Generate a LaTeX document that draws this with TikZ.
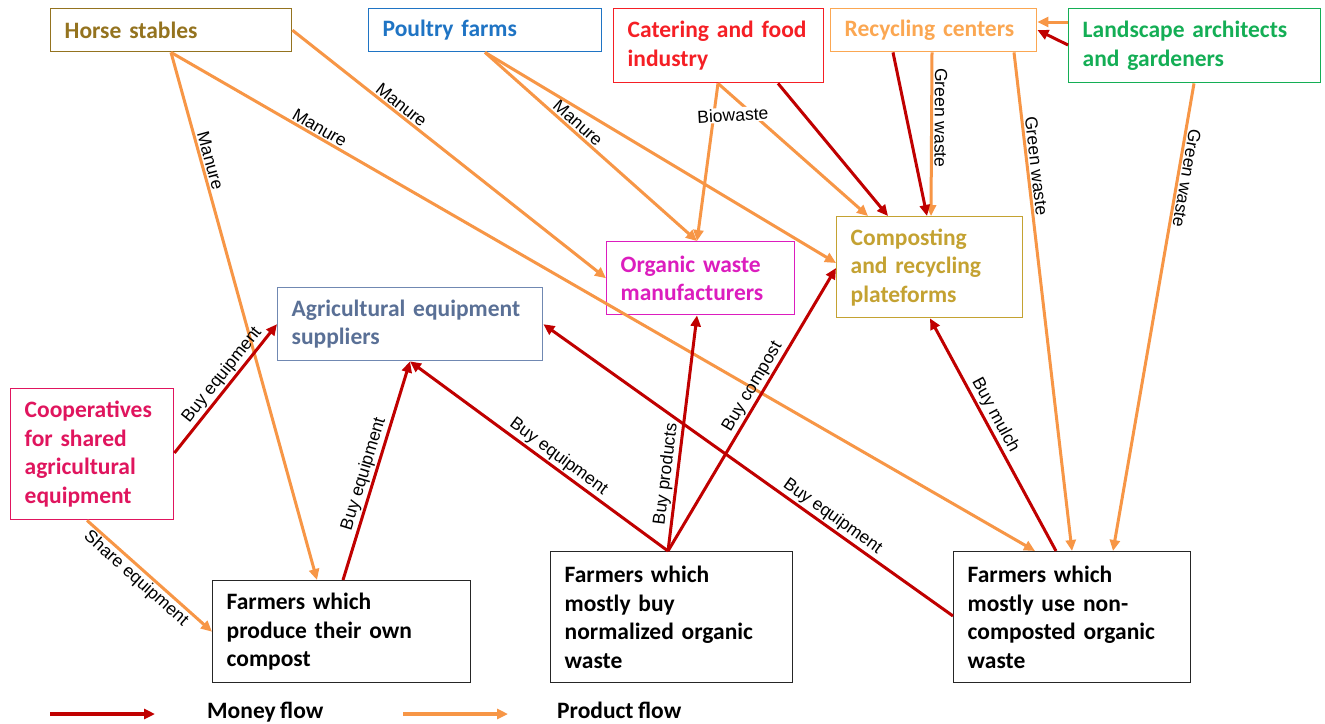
\documentclass[tikz,border=0pt]{standalone}
\usepackage{fontspec}
\usetikzlibrary{arrows.meta}
\newfontfamily\boxfont{Carlito}[WordSpace=0.85]
\newfontfamily\labfont{Liberation Sans}

\definecolor{horsec}{HTML}{94731F}
\definecolor{poultryc}{HTML}{1F74C4}
\definecolor{cateringc}{HTML}{F51F25}
\definecolor{recycc}{HTML}{FBA752}
\definecolor{landc}{HTML}{14AE55}
\definecolor{organicc}{HTML}{DC1DBE}
\definecolor{compostc}{HTML}{C4A232}
\definecolor{agric}{HTML}{5A7096}
\definecolor{agrib}{HTML}{7088B2}
\definecolor{coopc}{HTML}{E0155E}
\definecolor{prodc}{HTML}{F79646}
\definecolor{moneyc}{HTML}{C00000}

\tikzset{
  box/.style={draw, line width=1.4pt, anchor=north west, inner xsep=14pt,
    inner ysep=0pt, align=left,
    font=\boxfont\bfseries\fontsize{23.5}{28.6}\selectfont},
  farmer/.style={box, draw=black!85, text=black},
  prod/.style={draw=prodc, line width=3pt, -{Triangle[length=11pt,width=10pt]}},
  money/.style={draw=moneyc, line width=3pt, -{Triangle[length=11pt,width=10pt]}},
  lab/.style={sloped, above, inner sep=1.5pt, text=black,
    font=\labfont\fontsize{17.5}{19}\selectfont},
  legendtext/.style={anchor=base west, inner sep=0pt,
    font=\boxfont\bfseries\fontsize{23.5}{28}\selectfont}
}

\begin{document}
\begin{tikzpicture}[x=1pt, y=-1pt]
\useasboundingbox (0,0) rectangle (1325,723);
\fill[white] (0,0) rectangle (1325,723);

% Actors
\node[box, draw=horsec, text=horsec, text width=213pt, minimum height=43pt] (horse) at (50,8) {Horse stables};
\node[box, draw=poultryc, text=poultryc, text width=205pt, minimum height=43pt] (poultry) at (368,8) {Poultry farms};
\node[box, draw=cateringc, text=cateringc, text width=182pt, minimum height=74pt] (catering) at (613,8) {Catering and food\\industry};
\node[box, draw=recycc, text=recycc, text width=178pt, minimum height=43pt] (recyc) at (830,8) {Recycling centers};
\node[box, draw=landc, text=landc, text width=224pt, minimum height=74pt] (land) at (1068,8) {Landscape architects\\and gardeners};
\node[box, draw=organicc, text=organicc, text width=160pt, minimum height=73pt] (organic) at (606,241) {Organic waste\\manufacturers};
\node[box, draw=compostc, text=compostc, text width=158pt, minimum height=101pt] (compost) at (836,216) {Composting\\and recycling\\plateforms};
\node[box, draw=agrib, text=agric, text width=237pt, minimum height=73pt] (agri) at (277,287) {Agricultural equipment\\suppliers};
\node[box, draw=coopc, text=coopc, text width=135pt, minimum height=131pt] (coop) at (10,388) {Cooperatives\\for shared\\agricultural\\equipment};
\node[farmer, text width=230pt, minimum height=102pt] (fown) at (212,580) {Farmers which\\produce their own\\compost};
\node[farmer, text width=214pt, minimum height=131pt] (fbuy) at (550,551) {Farmers which\\mostly buy\\normalized organic\\waste};
\node[farmer, text width=209pt, minimum height=131pt] (fnon) at (953,551) {Farmers which\\mostly use non-\\composted organic\\waste};

% Product flows
\draw[prod] ([xshift=121pt]horse.south west) -- node[lab, pos=.21] {Manure} ([xshift=105pt]fown.north west);
\draw[prod] ([xshift=121pt]horse.south west) -- node[lab, pos=.167] {Manure} ([xshift=82pt]fnon.north west);
\draw[prod] (horse.east) -- node[lab, pos=.33] {Manure} (organic.west);
\draw[prod] ([xshift=117pt]poultry.south west) -- node[lab, pos=.41] {Manure} ([xshift=91pt]organic.north west);
\draw[prod] ([xshift=117pt]poultry.south west) -- ([yshift=-47pt]compost.north west);
\draw[prod] ([xshift=105pt]catering.south west) -- ([xshift=91pt]organic.north west);
\draw[prod] ([xshift=105pt]catering.south west) -- ([xshift=32pt]compost.north west);
\draw[prod] ([xshift=102pt]recyc.south west) -- node[lab, pos=.4, allow upside down] {Green waste} ([xshift=95pt]compost.north west);
\draw[prod] ([xshift=184pt]recyc.south west) -- node[lab, pos=.23] {Green waste} ([xshift=119pt]fnon.north west);
\draw[prod] ([xshift=126pt]land.south west) -- node[lab, pos=.2, allow upside down] {Green waste} ([xshift=160pt]fnon.north west);
\draw[prod] ([yshift=-14pt]land.north west) -- ([yshift=-14pt]recyc.north east);
\draw[prod] ([xshift=77pt]coop.south west) -- node[lab, below, pos=.45] {Share equipment} (fown.west);

% Money flows
\draw[money] ([xshift=165pt]catering.south west) -- ([xshift=52pt]compost.north west);
\draw[money] ([xshift=63pt]recyc.south west) -- ([xshift=91pt]compost.north west);
\draw[money] ([yshift=-37pt]land.north west) -- ([yshift=-22pt]recyc.north east);
\draw[money] ([yshift=-65pt]coop.north east) -- node[lab, pos=.55] {Buy equipment} (agri.west);
\draw[money] ([xshift=131pt]fown.north west) -- node[lab, pos=.47] {Buy equipment} ([xshift=133pt]agri.south west);
\draw[money] ([xshift=118pt]fbuy.north west) -- node[lab, pos=.45] {Buy equipment} ([xshift=133pt]agri.south west);
\draw[money] ([xshift=118pt]fbuy.north west) -- node[lab, pos=.32] {Buy products} ([xshift=91pt]organic.south west);
\draw[money] ([xshift=118pt]fbuy.north west) -- node[lab, pos=.56] {Buy compost} ([yshift=-52pt]compost.north west);
\draw[money] ([yshift=-65pt]fnon.north west) -- node[lab, pos=.31] {Buy equipment} (agri.east);
\draw[money] ([xshift=103pt]fnon.north west) -- node[lab, pos=.56] {Buy mulch} ([xshift=94pt]compost.south west);

% Label drawn over the catering flows
\path ([xshift=105pt]catering.south west) -- node[pos=.2, xshift=19pt, rotate=3, fill=white, inner sep=1pt, text=black, font=\labfont\fontsize{17.5}{19}\selectfont] (bio) {Biowaste} ([xshift=91pt]organic.north west);

% Legend
\coordinate (mA) at (50,714);
\coordinate (mB) at (155,714);
\coordinate (pA) at (403,714);
\coordinate (pB) at (508,714);
\draw[money, line width=4pt] (mA) -- (mB);
\draw[prod, line width=4pt] (pA) -- (pB);
\node[legendtext] (mtxt) at (207,718) {Money flow};
\node[legendtext] (ptxt) at (557,718) {Product flow};
\end{tikzpicture}
\end{document}
